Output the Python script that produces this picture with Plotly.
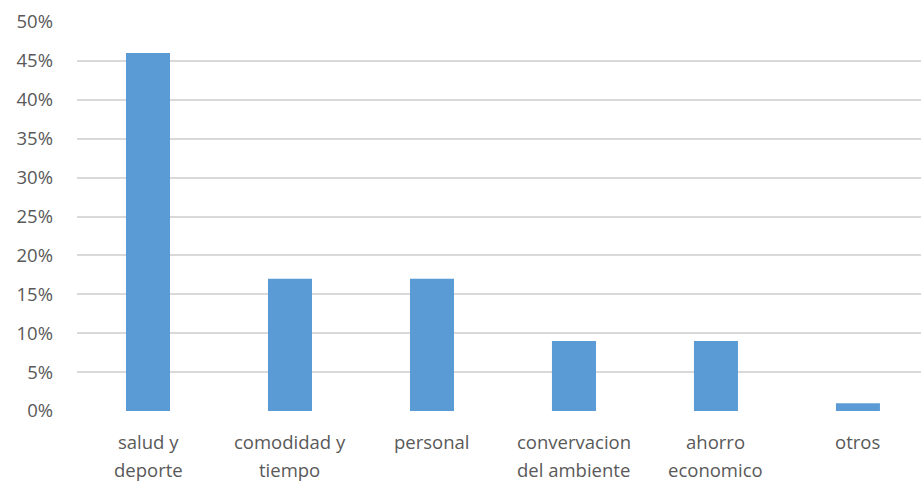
import plotly.graph_objects as go

cat_line1 = ["salud y", "comodidad y", "personal", "convervacion", "ahorro", "otros"]
cat_line2 = ["deporte", "tiempo", "", "del ambiente", "economico", ""]
values = [0.46, 0.17, 0.17, 0.09, 0.09, 0.01]
y_ticks = [0, 0.05, 0.10, 0.15, 0.20, 0.25, 0.30, 0.35, 0.40, 0.45, 0.50]

xs = list(range(len(values)))
fig = go.Figure(go.Bar(x=xs, y=values,
                       marker=dict(color="#5B9BD5", line=dict(width=0)),
                       width=0.31))

font = dict(family="Open Sans", size=18.5, color="#595959")
for i in xs:
    for txt, shift in ((cat_line1[i], -30), (cat_line2[i], -58)):
        if txt:
            fig.add_annotation(x=i, y=0, xref="x", yref="y", text=txt,
                               showarrow=False, yanchor="middle",
                               yshift=shift, font=font)

fig.update_layout(
    width=921, height=482,
    margin=dict(l=77, r=0, t=22, b=71),
    plot_bgcolor="white", paper_bgcolor="white",
    font=font,
    showlegend=False,
)
fig.update_xaxes(
    tickmode="array", tickvals=xs, showticklabels=False,
    range=[-0.5, 5.444], showgrid=False, zeroline=False,
    showline=False, ticks="",
)
fig.update_yaxes(
    range=[0, 0.5], tickvals=y_ticks, tickformat=".0%",
    showgrid=True, gridcolor="#D9D9D9", gridwidth=1.5,
    zeroline=False, ticks="", ticklabelstandoff=23,
)
fig.write_html("out.html")
